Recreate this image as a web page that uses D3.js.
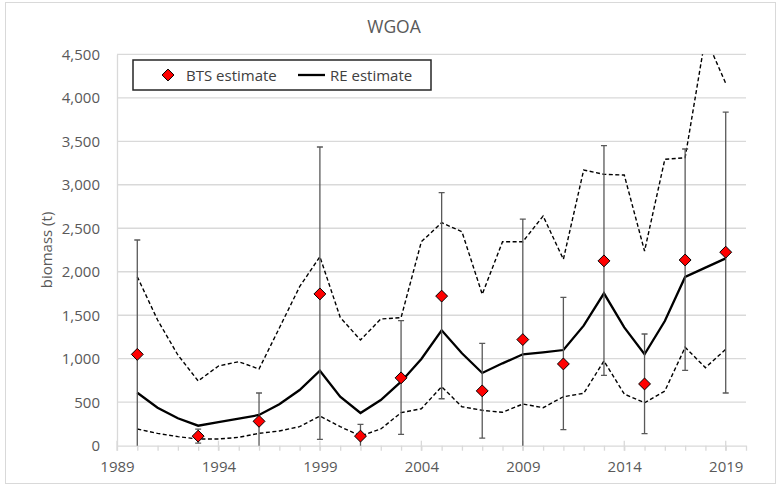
<!DOCTYPE html>
<html>
<head>
<meta charset="utf-8">
<script src="https://cdn.jsdelivr.net/npm/d3@7"></script>
<style>
  html, body { margin: 0; padding: 0; background: #fff; }
  svg { display: block; font-family: "Open Sans", "Noto Sans", sans-serif; }
</style>
</head>
<body>
<svg id="chart" width="777" height="486"></svg>
<script>
// Survey years and bottom-trawl-survey (BTS) biomass estimates with CI bounds
const btsYears = [1990, 1993, 1996, 1999, 2001, 2003, 2005, 2007, 2009, 2011, 2013, 2015, 2017, 2019];
const btsValues = [1050, 110, 280, 1745, 110, 780, 1720, 630, 1220, 940, 2125, 710, 2135, 2225];
const btsUpper = [2365, 190, 606, 3434, 246, 1437, 2910, 1177, 2606, 1706, 3449, 1284, 3411, 3836];
const btsLower = [-265, 30, -46, 73, -26, 131, 540, 88, -166, 184, 809, 138, 867, 606];

// Random-effects (RE) model estimate, annual, with upper and lower bounds
const reYears = d3.range(1990, 2020);
const reValues = [609, 437, 315, 230, 272, 310, 353, 476, 640, 862,
                  563, 376, 525, 736, 997, 1327, 1062, 836, 947, 1051,
                  1074, 1100, 1380, 1752, 1361, 1051, 1434, 1940, 2047, 2154];
const reUpper = [1943, 1445, 1043, 744, 916, 966, 882, 1353, 1828, 2173,
                 1476, 1215, 1457, 1472, 2345, 2564, 2460, 1741, 2345, 2345,
                 2641, 2143, 3170, 3120, 3112, 2238, 3293, 3311, 4700, 4166];
const reLower = [192, 142, 104, 77, 77, 96, 142, 169, 219, 341,
                 219, 112, 192, 380, 425, 678, 448, 407, 384, 479,
                 437, 563, 602, 974, 594, 494, 629, 1131, 897, 1108];

const xTickYears = [1989, 1994, 1999, 2004, 2009, 2014, 2019];
const yTicks = [0, 500, 1000, 1500, 2000, 2500, 3000, 3500, 4000, 4500];

const svg = d3.select("#chart");
const plotLeft = 117, plotRight = 746, plotTop = 54.3, plotBottom = 445.7;

const x = d3.scaleLinear().domain([1989, 2020]).range([plotLeft, plotRight]);
const y = d3.scaleLinear().domain([0, 4500]).range([plotBottom, plotTop]);

// Chart frame
svg.append("rect").attr("x", 5.5).attr("y", 2.5).attr("width", 770).attr("height", 481)
  .attr("fill", "#fff").attr("stroke", "#d9d9d9").attr("stroke-width", 1);

// Title
svg.append("text").attr("x", 394).attr("y", 33).attr("text-anchor", "middle")
  .attr("font-size", 17.5).attr("fill", "#595959").text("WGOA");

// Horizontal gridlines
svg.append("g").selectAll("line").data(yTicks.filter(d => d > 0)).join("line")
  .attr("x1", plotLeft).attr("x2", plotRight)
  .attr("y1", d => y(d)).attr("y2", d => y(d))
  .attr("stroke", "#d9d9d9").attr("stroke-width", 1.3);

// Y axis
const yAxis = svg.append("g").attr("transform", `translate(${plotLeft},0)`)
  .call(d3.axisLeft(y).tickValues(yTicks).tickFormat(d3.format(",")).tickSize(0).tickPadding(17));
yAxis.select(".domain").attr("stroke", "#d9d9d9").attr("stroke-width", 1.3);
yAxis.selectAll("text").attr("font-size", 15).attr("fill", "#595959")
  .attr("font-family", "Open Sans, sans-serif").attr("dy", "0.34em");

// X axis: yearly minor ticks, labelled major ticks every five years
const xAxisG = svg.append("g").attr("transform", `translate(0,${plotBottom})`);
xAxisG.call(d3.axisBottom(x).tickValues(d3.range(1989, 2021)).tickFormat("").tickSize(5).tickSizeOuter(0));
xAxisG.selectAll("line").attr("stroke", "#d9d9d9").attr("stroke-width", 1.3);
xAxisG.select(".domain").attr("stroke", "#d9d9d9").attr("stroke-width", 1.3);
const xMajor = svg.append("g").attr("transform", `translate(0,${plotBottom})`);
xMajor.call(d3.axisBottom(x).tickValues(xTickYears).tickFormat(d3.format("d")).tickSize(0).tickPadding(16));
xMajor.select(".domain").remove();
xMajor.selectAll("text").attr("font-size", 15).attr("fill", "#595959").attr("font-family", "Open Sans, sans-serif");
svg.append("g").selectAll("line").data(xTickYears).join("line")
  .attr("x1", d => x(d)).attr("x2", d => x(d))
  .attr("y1", plotBottom - 5).attr("y2", plotBottom + 5)
  .attr("stroke", "#d9d9d9").attr("stroke-width", 1.3);

// Y axis title
svg.append("text").attr("transform", "translate(52,250) rotate(-90)")
  .attr("text-anchor", "middle").attr("font-size", 15).attr("fill", "#595959")
  .text("biomass (t)");

// Clip marks to the plotting area
svg.append("clipPath").attr("id", "plotClip").append("rect")
  .attr("x", plotLeft - 10).attr("y", plotTop).attr("width", plotRight - plotLeft + 20).attr("height", plotBottom - plotTop);
const plot = svg.append("g").attr("clip-path", "url(#plotClip)");

const lineOf = arr => d3.line().x((d, i) => x(reYears[i])).y(d => y(d))(arr);

// RE confidence bounds
[reUpper, reLower].forEach(arr => {
  plot.append("path").attr("d", lineOf(arr)).attr("fill", "none")
    .attr("stroke", "#000").attr("stroke-width", 1.4).attr("stroke-dasharray", "4,2.5");
});

// RE estimate
plot.append("path").attr("d", lineOf(reValues)).attr("fill", "none")
  .attr("stroke", "#000").attr("stroke-width", 2.3).attr("stroke-linejoin", "miter");

// BTS error bars
const eb = plot.append("g").attr("stroke", "#595959").attr("stroke-width", 1.3);
btsYears.forEach((yr, i) => {
  const cx = x(yr);
  eb.append("line").attr("x1", cx).attr("x2", cx).attr("y1", y(btsUpper[i])).attr("y2", y(btsLower[i]));
  [btsUpper[i], btsLower[i]].forEach(v => {
    eb.append("line").attr("x1", cx - 3).attr("x2", cx + 3).attr("y1", y(v)).attr("y2", y(v));
  });
});

// BTS points
const diamond = d3.symbol().type(d3.symbolDiamond2).size(90);
plot.append("g").selectAll("path").data(btsYears).join("path")
  .attr("transform", (d, i) => `translate(${x(d)},${y(btsValues[i])})`)
  .attr("d", diamond).attr("fill", "#ff0000").attr("stroke", "#000").attr("stroke-width", 1);

// Legend
const lg = svg.append("g");
lg.append("rect").attr("x", 133).attr("y", 60).attr("width", 298).attr("height", 30)
  .attr("fill", "#fff").attr("stroke", "#262626").attr("stroke-width", 1.5);
lg.append("path").attr("transform", "translate(168,75)").attr("d", diamond)
  .attr("fill", "#ff0000").attr("stroke", "#000").attr("stroke-width", 1);
lg.append("text").attr("x", 186).attr("y", 80.5).attr("font-size", 15).attr("fill", "#404040").text("BTS estimate");
lg.append("line").attr("x1", 298).attr("x2", 325).attr("y1", 75).attr("y2", 75)
  .attr("stroke", "#000").attr("stroke-width", 2.3);
lg.append("text").attr("x", 330).attr("y", 80.5).attr("font-size", 15).attr("fill", "#404040").text("RE estimate");
</script>
</body>
</html>
